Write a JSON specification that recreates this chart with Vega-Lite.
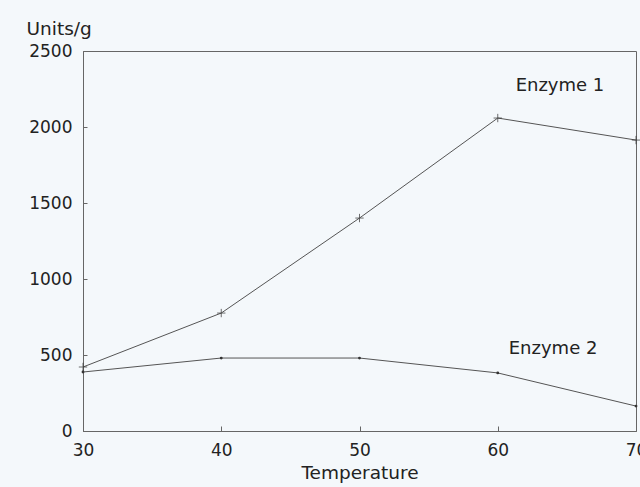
{
  "$schema": "https://vega.github.io/schema/vega-lite/v6.json",
  "autosize": "none",
  "width": 553,
  "height": 380,
  "padding": {"left": 83, "top": 51, "right": 4, "bottom": 56},
  "background": "#f4f8fb",
  "config": {
    "view": {"stroke": "#666", "strokeWidth": 1},
    "font": "DejaVu Sans"
  },
  "datasets": {
    "main": [
      {"t": 30, "u": 421, "enzyme": "Enzyme 1"},
      {"t": 40, "u": 776, "enzyme": "Enzyme 1"},
      {"t": 50, "u": 1401, "enzyme": "Enzyme 1"},
      {"t": 60, "u": 2059, "enzyme": "Enzyme 1"},
      {"t": 70, "u": 1914, "enzyme": "Enzyme 1"},
      {"t": 30, "u": 388, "enzyme": "Enzyme 2"},
      {"t": 40, "u": 480, "enzyme": "Enzyme 2"},
      {"t": 50, "u": 480, "enzyme": "Enzyme 2"},
      {"t": 60, "u": 382, "enzyme": "Enzyme 2"},
      {"t": 70, "u": 164, "enzyme": "Enzyme 2"}
    ],
    "labels": [
      {"t": 64.5, "u": 2270, "label": "Enzyme 1"},
      {"t": 64.0, "u": 539, "label": "Enzyme 2"}
    ]
  },
  "layer": [
    {
      "data": {"name": "main"},
      "mark": {"type": "line", "color": "#555", "strokeWidth": 1},
      "encoding": {
        "x": {
          "field": "t", "type": "quantitative",
          "scale": {"domain": [30, 70], "nice": false},
          "axis": {
            "values": [30, 40, 50, 60, 70], "grid": false, "format": "d",
            "title": "Temperature", "titleFont": "DejaVu Sans", "titleFontSize": 18.5, "titleFontWeight": "normal", "titleColor": "#222", "titlePadding": 5,
            "labelFontSize": 17, "labelColor": "#222", "labelPadding": 16,
            "tickSize": -5, "tickColor": "#666", "domainColor": "#666", "labelFlush": false
          }
        },
        "y": {
          "field": "u", "type": "quantitative",
          "scale": {"domain": [0, 2500], "nice": false},
          "axis": {
            "values": [0, 500, 1000, 1500, 2000, 2500], "grid": false, "format": "d",
            "title": "Units/g", "titleAngle": 0, "titleAlign": "left", "titleBaseline": "middle",
            "titleX": -57, "titleY": -23, "titleFont": "DejaVu Sans", "titleFontSize": 18.5, "titleFontWeight": "normal", "titleColor": "#222",
            "labelFontSize": 17, "labelColor": "#222", "labelPadding": 15,
            "tickSize": -4, "tickColor": "#666", "domainColor": "#666"
          }
        },
        "detail": {"field": "enzyme"}
      }
    },
    {
      "data": {"name": "main"},
      "transform": [{"filter": "datum.enzyme == 'Enzyme 1'"}],
      "mark": {"type": "point", "shape": "M-1,0L1,0M0,-1L0,1", "filled": false, "color": "#333", "size": 70, "strokeWidth": 1},
      "encoding": {
        "x": {"field": "t", "type": "quantitative"},
        "y": {"field": "u", "type": "quantitative"}
      }
    },
    {
      "data": {"name": "main"},
      "transform": [{"filter": "datum.enzyme == 'Enzyme 2'"}],
      "mark": {"type": "point", "shape": "circle", "filled": true, "color": "#333", "size": 8, "opacity": 1},
      "encoding": {
        "x": {"field": "t", "type": "quantitative"},
        "y": {"field": "u", "type": "quantitative"}
      }
    },
    {
      "data": {"name": "labels"},
      "mark": {"type": "text", "fontSize": 18, "color": "#222", "align": "center", "baseline": "middle"},
      "encoding": {
        "x": {"field": "t", "type": "quantitative"},
        "y": {"field": "u", "type": "quantitative"},
        "text": {"field": "label"}
      }
    }
  ]
}
